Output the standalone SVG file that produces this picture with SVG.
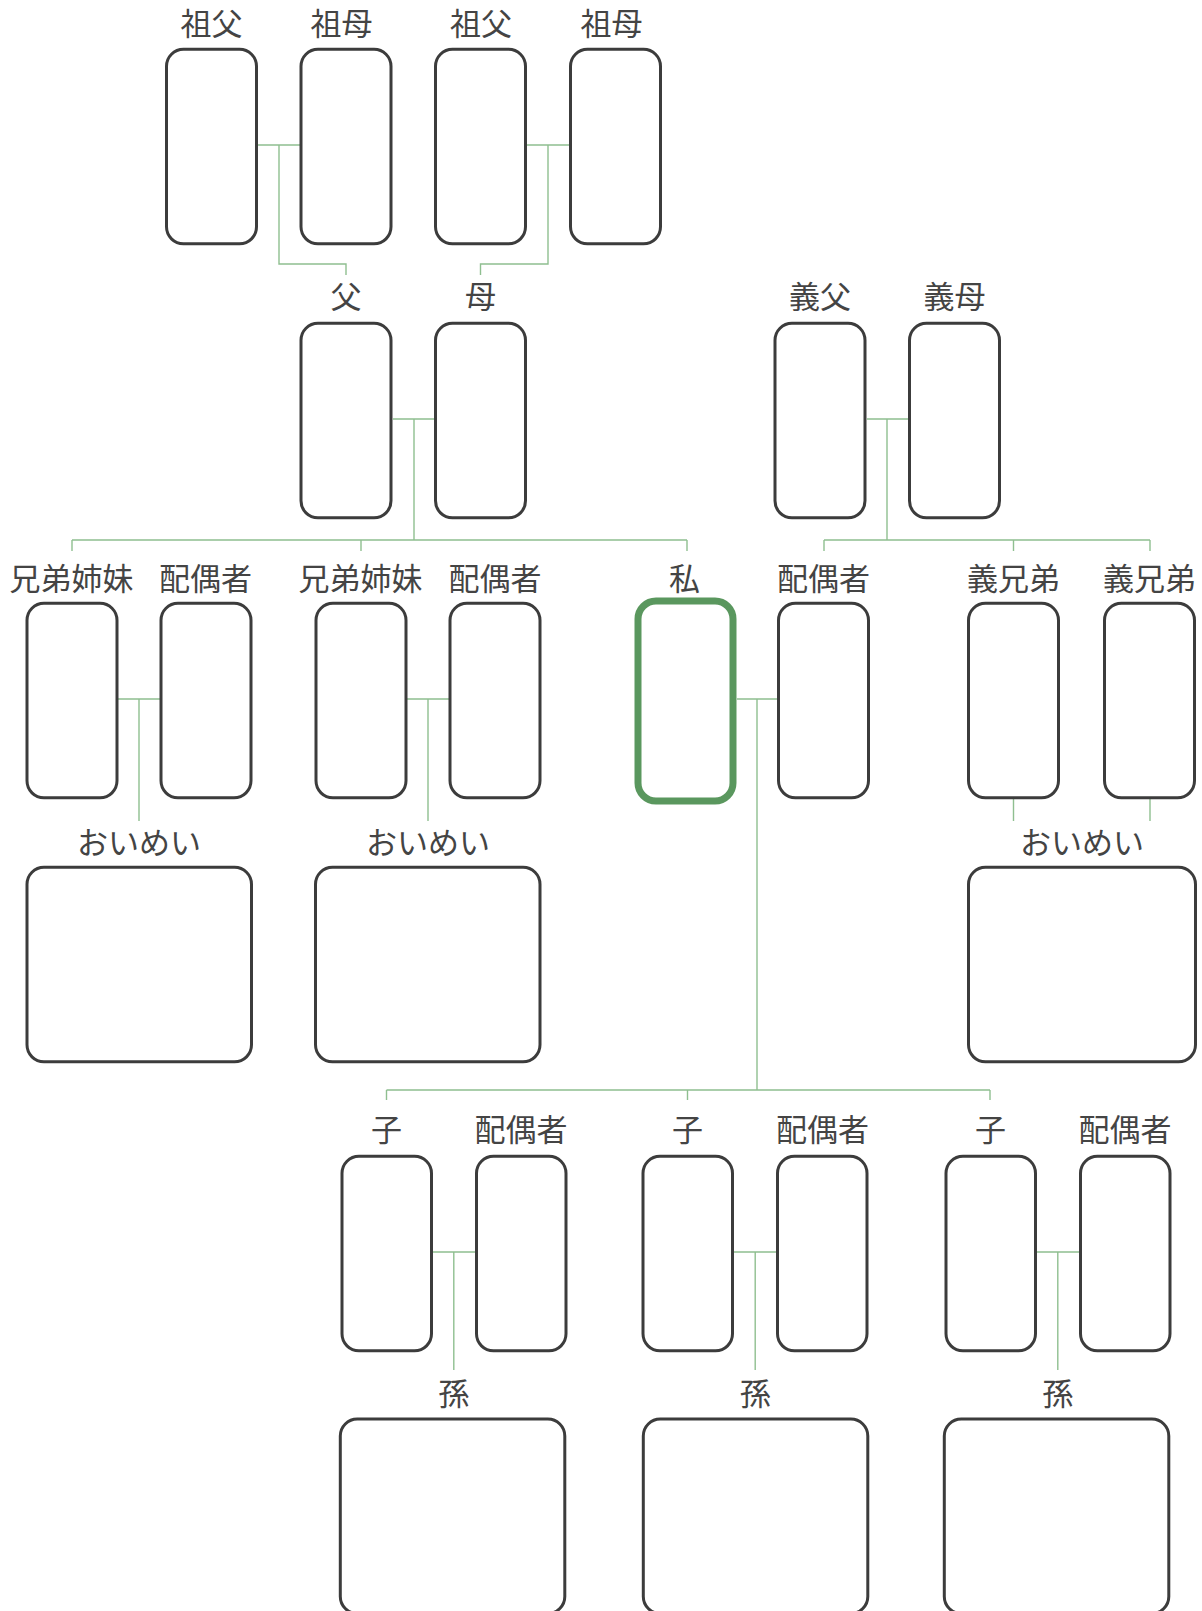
<svg xmlns="http://www.w3.org/2000/svg" width="1202" height="1611" viewBox="0 0 1202 1611">
<style>
  .b{fill:#fff;stroke:#3c3c3c;stroke-width:3}
  .me{fill:#fff;stroke:#5a975e;stroke-width:7}
  .l{font-family:"Noto Sans CJK JP","Noto Sans CJK SC",sans-serif;font-size:31px;fill:#444;text-anchor:middle}
  .c{fill:none;stroke:#8fbf90;stroke-width:1.4}
</style>
<rect width="1202" height="1611" fill="#fff"/>
<g id="connectors" class="c">
  <path d="M258 145H300M279 145V264H346V275"/>
  <path d="M527 145H569M548 145V264H480.5V275"/>
  <path d="M393 419H434M414 419V540M72 540H687M72 540V551M361 540V551M687 540V551"/>
  <path d="M867 419H908M887 419V540M824 540H1150M824 540V551M1013.5 540V551M1150 540V551"/>
  <path d="M118 699H160M139 699V821"/>
  <path d="M406 699H450M428 699V821"/>
  <path d="M1013.5 799V821M1150 799V821"/>
  <path d="M737 699H778M757 699V1090M386.5 1090H990M386.5 1090V1100M687.5 1090V1100M990 1090V1100"/>
  <path d="M432 1252H476M453.8 1252V1370"/>
  <path d="M733.5 1252H777M755.2 1252V1370"/>
  <path d="M1035.5 1252H1080M1057.8 1252V1370"/>
</g>
<g id="gf1"><rect class="b" x="166.5" y="49.3" width="90" height="194.5" rx="17"/><text class="l" x="211.5" y="34.5">祖父</text></g>
<g id="gm1"><rect class="b" x="301" y="49.3" width="90" height="194.5" rx="17"/><text class="l" x="341.5" y="34.5">祖母</text></g>
<g id="gf2"><rect class="b" x="435.5" y="49.3" width="90" height="194.5" rx="17"/><text class="l" x="481" y="34.5">祖父</text></g>
<g id="gm2"><rect class="b" x="570.5" y="49.3" width="90" height="194.5" rx="17"/><text class="l" x="611.5" y="34.5">祖母</text></g>
<g id="father"><rect class="b" x="301" y="323.3" width="90" height="194.5" rx="17"/><text class="l" x="346" y="308">父</text></g>
<g id="mother"><rect class="b" x="435.5" y="323.3" width="90" height="194.5" rx="17"/><text class="l" x="480.5" y="308">母</text></g>
<g id="fil"><rect class="b" x="775" y="323.3" width="90" height="194.5" rx="17"/><text class="l" x="820" y="308">義父</text></g>
<g id="mil"><rect class="b" x="909.5" y="323.3" width="90" height="194.5" rx="17"/><text class="l" x="954.5" y="308">義母</text></g>
<g id="sib1"><rect class="b" x="27" y="603.3" width="90" height="194.5" rx="17"/><text class="l" x="71.5" y="589.5">兄弟姉妹</text></g>
<g id="sp1"><rect class="b" x="161" y="603.3" width="90" height="194.5" rx="17"/><text class="l" x="205.5" y="589.5">配偶者</text></g>
<g id="sib2"><rect class="b" x="316" y="603.3" width="90" height="194.5" rx="17"/><text class="l" x="360.5" y="589.5">兄弟姉妹</text></g>
<g id="sp2"><rect class="b" x="450" y="603.3" width="90" height="194.5" rx="17"/><text class="l" x="495" y="589.5">配偶者</text></g>
<g id="me"><rect class="me" x="638" y="601" width="95" height="200" rx="18"/><text class="l" x="684.5" y="589.5">私</text></g>
<g id="spouse"><rect class="b" x="778.5" y="603.3" width="90" height="194.5" rx="17"/><text class="l" x="823.5" y="589.5">配偶者</text></g>
<g id="bil1"><rect class="b" x="968.5" y="603.3" width="90" height="194.5" rx="17"/><text class="l" x="1013.5" y="589.5">義兄弟</text></g>
<g id="bil2"><rect class="b" x="1104.5" y="603.3" width="90" height="194.5" rx="17"/><text class="l" x="1149.5" y="589.5">義兄弟</text></g>
<g id="nn1"><rect class="b" x="27" y="867.3" width="224.5" height="194.5" rx="17"/><text class="l" x="139" y="854">おいめい</text></g>
<g id="nn2"><rect class="b" x="315.5" y="867.3" width="224.5" height="194.5" rx="17"/><text class="l" x="428" y="854">おいめい</text></g>
<g id="nn3"><rect class="b" x="968.5" y="867.3" width="227" height="194.5" rx="17"/><text class="l" x="1082" y="854">おいめい</text></g>
<g id="ch1"><rect class="b" x="342" y="1156.3" width="89.5" height="194.5" rx="17"/><text class="l" x="386.5" y="1141">子</text></g>
<g id="cs1"><rect class="b" x="476.5" y="1156.3" width="89.5" height="194.5" rx="17"/><text class="l" x="521" y="1141">配偶者</text></g>
<g id="ch2"><rect class="b" x="643" y="1156.3" width="89.5" height="194.5" rx="17"/><text class="l" x="687.5" y="1141">子</text></g>
<g id="cs2"><rect class="b" x="777.5" y="1156.3" width="89.5" height="194.5" rx="17"/><text class="l" x="822.5" y="1141">配偶者</text></g>
<g id="ch3"><rect class="b" x="946" y="1156.3" width="89.5" height="194.5" rx="17"/><text class="l" x="990.5" y="1141">子</text></g>
<g id="cs3"><rect class="b" x="1080.5" y="1156.3" width="89.5" height="194.5" rx="17"/><text class="l" x="1125" y="1141">配偶者</text></g>
<g id="gc1"><rect class="b" x="340.3" y="1419" width="224.5" height="194.5" rx="17"/><text class="l" x="453.8" y="1405">孫</text></g>
<g id="gc2"><rect class="b" x="643.3" y="1419" width="224.5" height="194.5" rx="17"/><text class="l" x="755.2" y="1405">孫</text></g>
<g id="gc3"><rect class="b" x="944.3" y="1419" width="224.5" height="194.5" rx="17"/><text class="l" x="1057.8" y="1405">孫</text></g>
</svg>
